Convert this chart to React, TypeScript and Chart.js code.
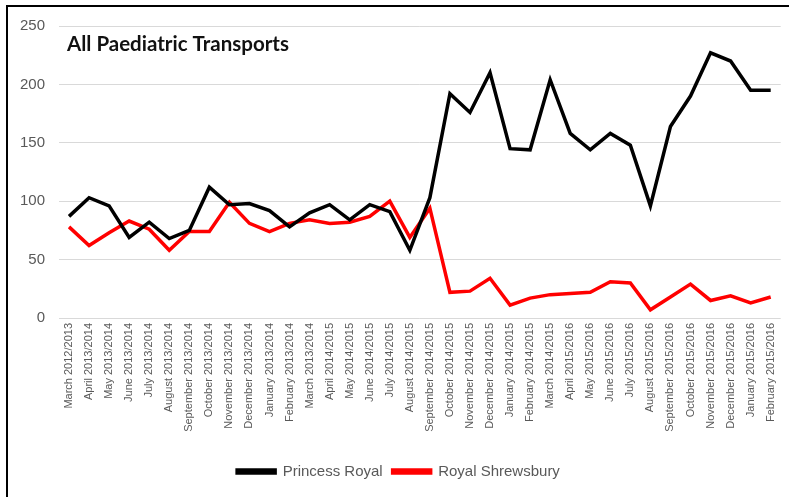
import React, { useEffect, useRef } from "react";
import { Chart, registerables } from "chart.js";

Chart.register(...registerables);

const categories: string[] = [
  "March 2012/2013",
  "April 2013/2014", "May 2013/2014", "June 2013/2014", "July 2013/2014", "August 2013/2014", "September 2013/2014",
  "October 2013/2014", "November 2013/2014", "December 2013/2014", "January 2013/2014", "February 2013/2014",
  "March 2013/2014",
  "April 2014/2015", "May 2014/2015", "June 2014/2015", "July 2014/2015", "August 2014/2015", "September 2014/2015",
  "October 2014/2015", "November 2014/2015", "December 2014/2015", "January 2014/2015", "February 2014/2015",
  "March 2014/2015",
  "April 2015/2016", "May 2015/2016", "June 2015/2016", "July 2015/2016", "August 2015/2016", "September 2015/2016",
  "October 2015/2016", "November 2015/2016", "December 2015/2016", "January 2015/2016", "February 2015/2016",
];

const princessRoyal: number[] = [87, 103, 96, 69, 82, 68, 75, 112, 97, 98, 92, 78, 90, 97, 84, 97, 91, 58, 103, 192, 176, 210, 145, 144, 204, 158, 144, 158, 148, 96, 164, 190, 227, 220, 195, 195];
const royalShrewsbury: number[] = [78, 62, 73, 83, 76, 58, 74, 74, 99, 81, 74, 81, 84, 81, 82, 87, 100, 69, 94, 22, 23, 34, 11, 17, 20, 21, 22, 31, 30, 7, 18, 29, 15, 19, 13, 18];

const seriesNames = ["Princess Royal", "Royal Shrewsbury"];
const chartTitle = "All Paediatric Transports";
const yMin = 0;
const yMax = 250;
const yStep = 50;

export default function App() {
  const canvasRef = useRef<HTMLCanvasElement | null>(null);

  useEffect(() => {
    if (!canvasRef.current) return;
    const titlePlugin = {
      id: "overlayTitle",
      afterDraw(chart: any) {
        const ctx = chart.ctx;
        ctx.save();
        ctx.font = "bold 20.5px Lato, 'Liberation Sans', sans-serif";
        ctx.fillStyle = "#111111";
        ctx.textAlign = "left";
        ctx.textBaseline = "alphabetic";
        ctx.fillText(chartTitle, chart.chartArea.left + 8, 51);
        ctx.restore();
      },
    };
    const chart = new Chart(canvasRef.current, {
      type: "line",
      data: {
        labels: categories,
        datasets: [
          {
            label: seriesNames[0],
            data: princessRoyal,
            borderColor: "#000000",
            backgroundColor: "#000000",
            borderWidth: 3.5,
            pointRadius: 0,
            tension: 0,
          },
          {
            label: seriesNames[1],
            data: royalShrewsbury,
            borderColor: "#ff0000",
            backgroundColor: "#ff0000",
            borderWidth: 3.5,
            pointRadius: 0,
            tension: 0,
          },
        ],
      },
      options: {
        animation: false,
        responsive: true,
        maintainAspectRatio: false,
        layout: { padding: { top: 26, left: 16, right: 8, bottom: 8 } },
        plugins: {
          title: { display: false },
          tooltip: { enabled: false },
          legend: {
            position: "bottom",
            labels: {
              boxWidth: 38,
              boxHeight: 3,
              padding: 10,
              color: "#595959",
              font: { size: 15, family: "'Liberation Sans', Arial, sans-serif" },
            },
          },
        },
        scales: {
          x: {
            type: "category",
            offset: true,
            grid: { display: false, drawTicks: false },
            border: { display: false },
            ticks: {
              autoSkip: false,
              minRotation: 90,
              maxRotation: 90,
              padding: 5,
              color: "#595959",
              font: { size: 11, family: "'Liberation Sans', Arial, sans-serif" },
            },
            afterFit(scale: any) {
              scale.height = 136;
            },
          },
          y: {
            min: yMin,
            max: yMax,
            grid: { color: "#d9d9d9", lineWidth: 1, drawTicks: false },
            border: { display: false },
            ticks: {
              stepSize: yStep,
              padding: 14,
              color: "#595959",
              font: { size: 15, family: "'Liberation Sans', Arial, sans-serif" },
            },
            afterFit(scale: any) {
              scale.width = 43;
            },
          },
        },
      },
      plugins: [titlePlugin],
    } as any);
    return () => chart.destroy();
  }, []);

  return (
    <div style={{ position: "fixed", left: 0, top: 0, width: 789, height: 497, overflow: "hidden", background: "#ffffff" }}>
      <div style={{ position: "absolute", left: 0, top: 0, width: 789, height: 497 }}>
        <canvas ref={canvasRef} />
      </div>
      <div
        style={{
          position: "absolute",
          left: 6,
          top: 5,
          width: 900,
          height: 700,
          border: "2px solid #000000",
          pointerEvents: "none",
        }}
      />
    </div>
  );
}
